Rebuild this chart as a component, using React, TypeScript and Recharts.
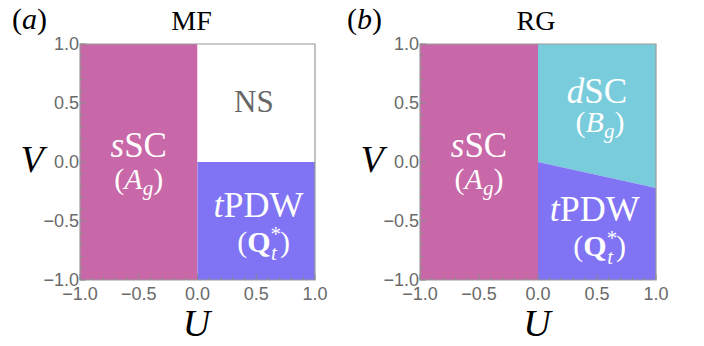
import React from "react";
import {
  ComposedChart,
  Area,
  XAxis,
  YAxis,
  ReferenceArea,
  ReferenceDot,
  Label,
} from "recharts";

// ---------- data ----------
const U_RANGE = [-1, 1];
const V_RANGE = [-1, 1];
const U_SPLIT = [0, 1]; // U values where the right-half boundary is given
const MF_BOUNDARY = [0, 0]; // V of the NS / tPDW boundary at U = 0, 1
const RG_BOUNDARY = [0, -0.22]; // V of the dSC / tPDW boundary at U = 0, 1
const TICKS = [-1, -0.9, -0.8, -0.7, -0.6, -0.5, -0.4, -0.3, -0.2, -0.1, 0, 0.1, 0.2, 0.3, 0.4, 0.5, 0.6, 0.7, 0.8, 0.9, 1];
const PANELS = ["MF", "RG"];
const PANEL_TAGS = ["a", "b"];

// ---------- styles ----------
const PINK = "#C968A8";
const PURPLE = "#8073F4";
const CYAN = "#79CCDC";
const FRAME = "#9a9a9a";
const TICK_MARK = "#8a8a8a";
const TICK_TEXT = "#6a6a6a";
const SERIF = "'Liberation Serif', 'DejaVu Serif', serif";
const SANS = "'Liberation Sans', Arial, sans-serif";

const isMajor = (v: number) => Math.abs(v * 2 - Math.round(v * 2)) < 1e-6;
const fmt = (v: number) => (v < 0 ? "\u2212" : "") + Math.abs(v).toFixed(1);

const XTick = (p: any) => {
  const { x, y, payload } = p;
  const v = payload.value as number;
  if (!isMajor(v)) return <g />;
  return (
    <text x={x} y={y + 20} textAnchor="middle" fontSize={18} fill={TICK_TEXT} fontFamily={SANS}>
      {fmt(v)}
    </text>
  );
};

const YTick = (p: any) => {
  const { x, y, payload } = p;
  const v = payload.value as number;
  if (!isMajor(v)) return <g />;
  return (
    <text x={x - 1} y={y + 6} textAnchor="end" fontSize={18} fill={TICK_TEXT} fontFamily={SANS}>
      {fmt(v)}
    </text>
  );
};

const vTickMark = (len: number) => (p: any) =>
  <path d={`M${p.cx},${p.cy}V${p.cy - len}`} stroke={TICK_MARK} strokeWidth={1} fill="none" />;
const hTickMark = (len: number) => (p: any) =>
  <path d={`M${p.cx},${p.cy}H${p.cx + len}`} stroke={TICK_MARK} strokeWidth={1} fill="none" />;

const textLabel = (render: (cx: number, cy: number) => React.ReactNode) => (p: any) =>
  <g>{render(p.cx, p.cy)}</g>;

const SSC = textLabel((cx, cy) => (
  <g fill="#fff" fontFamily={SERIF}>
    <text x={cx} y={cy} textAnchor="middle" fontSize={35}>
      <tspan fontStyle="italic">s</tspan>SC
    </text>
    <text x={cx} y={cy + 32} textAnchor="middle" fontSize={30}>
      (<tspan fontStyle="italic">A</tspan>
      <tspan fontStyle="italic" fontSize={21} dy={6}>g</tspan>
      <tspan dy={-6}>)</tspan>
    </text>
  </g>
));

const DSC = textLabel((cx, cy) => (
  <g fill="#fff" fontFamily={SERIF}>
    <text x={cx} y={cy} textAnchor="middle" fontSize={35}>
      <tspan fontStyle="italic">d</tspan>SC
    </text>
    <text x={cx + 3} y={cy + 29} textAnchor="middle" fontSize={30}>
      (<tspan fontStyle="italic">B</tspan>
      <tspan fontStyle="italic" fontSize={21} dy={6}>g</tspan>
      <tspan dy={-6}>)</tspan>
    </text>
  </g>
));

const TPDW = textLabel((cx, cy) => (
  <g fill="#fff" fontFamily={SERIF}>
    <text x={cx} y={cy} textAnchor="middle" fontSize={36}>
      <tspan fontStyle="italic">t</tspan>PDW
    </text>
    <text x={cx + 5} y={cy + 35} textAnchor="middle" fontSize={30}>
      (<tspan fontWeight="bold">Q</tspan>
      <tspan fontSize={21} dy={-11}>*</tspan>
      <tspan fontStyle="italic" fontSize={21} dx={-10} dy={19}>t</tspan>
      <tspan dx={3} dy={-8}>)</tspan>
    </text>
  </g>
));

const NS = textLabel((cx, cy) => (
  <text x={cx} y={cy} textAnchor="middle" fontSize={31} fill="#666" fontFamily={SERIF}>
    NS
  </text>
));

const buildRows = (boundary: number[]) =>
  U_SPLIT.map((u, i) => ({
    U: u,
    upper: [boundary[i], V_RANGE[1]],
    lower: [V_RANGE[0], boundary[i]],
  }));

type PanelProps = { idx: number; left: number; marginLeft: number; marginRight: number };

const AXIS_W = 60;
const AXIS_H = 60;

const Panel = ({ idx, left, marginLeft, marginRight }: PanelProps) => {
  const isRG = PANELS[idx] === "RG";
  const rows = buildRows(isRG ? RG_BOUNDARY : MF_BOUNDARY);
  const plotLeft = marginLeft;
  const plotRight = 352 - marginRight;
  const center = (plotLeft + plotRight) / 2;
  return (
    <div style={{ position: "absolute", left, top: 0, width: 352, height: 346 }}>
      <ComposedChart
        width={352}
        height={346}
        data={rows}
        margin={{ top: 44, right: marginRight, bottom: 66 - AXIS_H, left: marginLeft - AXIS_W }}
      >
        <XAxis
          type="number"
          dataKey="U"
          domain={U_RANGE}
          ticks={TICKS}
          interval={0}
          allowDataOverflow
          height={AXIS_H}
          tickSize={0}
          tickMargin={0}
          axisLine={false}
          tickLine={false}
          tick={XTick}
        >
          <Label
            content={(p: any) => (
              <text
                x={p.viewBox.x + p.viewBox.width / 2 - 1}
                y={p.viewBox.y + 56}
                textAnchor="middle"
                fontSize={38}
                fontStyle="italic"
                fontFamily={SERIF}
                fill="#000"
              >
                U
              </text>
            )}
          />
        </XAxis>
        <YAxis
          type="number"
          domain={V_RANGE}
          ticks={TICKS}
          interval={0}
          allowDataOverflow
          width={AXIS_W}
          tickSize={0}
          tickMargin={0}
          axisLine={false}
          tickLine={false}
          tick={YTick}
        >
          <Label
            content={(p: any) => (
              <text
                x={p.viewBox.x + p.viewBox.width - 48}
                y={p.viewBox.y + 128}
                textAnchor="middle"
                fontSize={38}
                fontStyle="italic"
                fontFamily={SERIF}
                fill="#000"
              >
                V
              </text>
            )}
          />
        </YAxis>
        <ReferenceArea x1={U_RANGE[0]} x2={0} y1={V_RANGE[0]} y2={V_RANGE[1]} fill={PINK} fillOpacity={1} stroke="none" />
        <Area
          type="linear"
          dataKey="upper"
          fill={isRG ? CYAN : "#fff"}
          fillOpacity={1}
          stroke="none"
          isAnimationActive={false}
          dot={false}
          activeDot={false}
        />
        <Area
          type="linear"
          dataKey="lower"
          fill={PURPLE}
          fillOpacity={1}
          stroke="none"
          isAnimationActive={false}
          dot={false}
          activeDot={false}
        />
        <ReferenceArea
          x1={U_RANGE[0]}
          x2={U_RANGE[1]}
          y1={V_RANGE[0]}
          y2={V_RANGE[1]}
          fill="none"
          fillOpacity={0}
          stroke={FRAME}
          strokeWidth={1.2}
        />
        {TICKS.map((t) => (
          <ReferenceDot
            key={"bx" + t}
            x={t}
            y={V_RANGE[0]}
            r={1}
            ifOverflow="visible"
            shape={vTickMark(isMajor(t) ? 6 : 3.5)}
          />
        ))}
        {TICKS.map((t) => (
          <ReferenceDot
            key={"ly" + t}
            x={U_RANGE[0]}
            y={t}
            r={1}
            ifOverflow="visible"
            shape={hTickMark(isMajor(t) ? 6 : 3.5)}
          />
        ))}
        <ReferenceDot x={-0.5} y={0.04} r={1} shape={SSC} />
        {isRG ? (
          <ReferenceDot x={0.5} y={0.5} r={1} shape={DSC} />
        ) : (
          <ReferenceDot x={0.48} y={0.42} r={1} shape={NS} />
        )}
        <ReferenceDot x={isRG ? 0.48 : 0.52} y={isRG ? -0.5 : -0.47} r={1} shape={TPDW} />
      </ComposedChart>
      <svg
        width={352}
        height={346}
        style={{ position: "absolute", left: 0, top: 0, pointerEvents: "none", overflow: "visible" }}
      >
        <text x={isRG ? -5 : 12} y={29} fontSize={30} fontFamily={SERIF} fill="#000">
          (<tspan fontStyle="italic">{PANEL_TAGS[idx]}</tspan>)
        </text>
        <text x={center - 6 + (isRG ? 4 : 0)} y={30} textAnchor="middle" fontSize={28} fontFamily={SERIF} fill="#000">
          {PANELS[idx]}
        </text>
      </svg>
    </div>
  );
};

export default function App() {
  return (
    <div style={{ position: "absolute", left: 0, top: 0, width: 704, height: 346, background: "#fff", overflow: "hidden" }}>
      <Panel idx={0} left={0} marginLeft={80} marginRight={37} />
      <Panel idx={1} left={352} marginLeft={68} marginRight={48} />
    </div>
  );
}
